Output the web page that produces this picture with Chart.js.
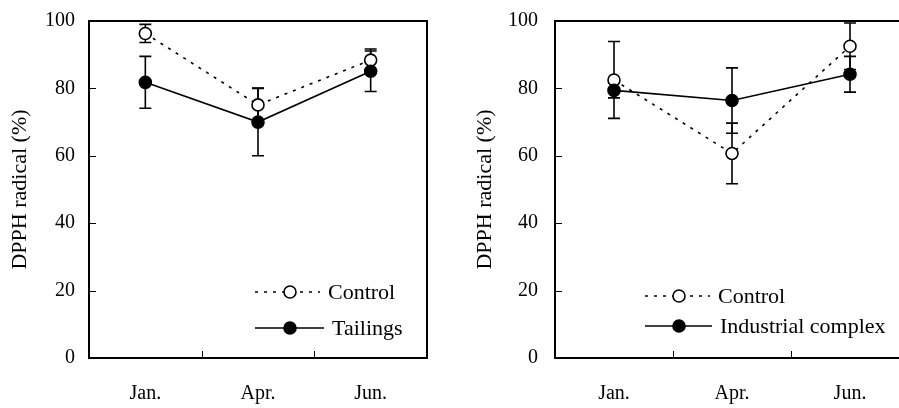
<!DOCTYPE html>
<html>
<head>
<meta charset="utf-8">
<script src="https://cdn.jsdelivr.net/npm/chart.js@4.4.0/dist/chart.umd.min.js"></script>
<style>
  html, body { margin: 0; padding: 0; background: #fff; overflow: hidden; }
  .panel { position: absolute; top: 0; height: 408px; overflow: hidden; }
  .inner { position: relative; height: 408px; }
</style>
</head>
<body>
<div class="panel" style="left:0;width:450px;"><div class="inner" style="width:450px;"><canvas id="left"></canvas></div></div>
<div class="panel" style="left:450px;width:449px;"><div class="inner" style="width:470px;"><canvas id="right"></canvas></div></div>
<script>
// categories and axis ticks
const months = ['Jan.', 'Apr.', 'Jun.'];
const yTicks = [0, 20, 40, 60, 80, 100];
const yTitle = 'DPPH radical (%)';

// left panel: control vs tailings
const controlA = [96.3, 75.1, 88.4];
const controlAErr = [2.7, 5.0, 3.3];
const tailings = [81.8, 70.0, 85.1];
const tailingsErr = [7.7, 10.0, 6.0];

// right panel: control vs industrial complex
const controlB = [82.5, 60.7, 92.5];
const controlBErr = [11.4, 9.0, 6.9];
const industrial = [79.4, 76.4, 84.2];
const industrialErr = [2.2, 9.7, 5.3];

const FONT = "'Liberation Serif', 'Times New Roman', serif";

// error bars, drawn under the markers
const errorBars = {
    id: 'errorBars',
    beforeDatasetsDraw(chart) {
        const ctx = chart.ctx;
        const y = chart.scales.y;
        ctx.save();
        ctx.strokeStyle = '#000';
        ctx.lineWidth = 1.6;
        ctx.setLineDash([]);
        chart.data.datasets.forEach((ds, i) => {
            const meta = chart.getDatasetMeta(i);
            meta.data.forEach((pt, j) => {
                const e = ds.errors[j];
                const top = y.getPixelForValue(ds.data[j] + e);
                const bot = y.getPixelForValue(ds.data[j] - e);
                ctx.beginPath();
                ctx.moveTo(pt.x, top); ctx.lineTo(pt.x, bot);
                ctx.moveTo(pt.x - 6, top); ctx.lineTo(pt.x + 6, top);
                ctx.moveTo(pt.x - 6, bot); ctx.lineTo(pt.x + 6, bot);
                ctx.stroke();
            });
        });
        ctx.restore();
    }
};

// frame and inward tick marks
const frame = {
    id: 'frame',
    afterDraw(chart) {
        const ctx = chart.ctx;
        const a = chart.chartArea;
        const x = chart.scales.x, y = chart.scales.y;
        ctx.save();
        ctx.strokeStyle = '#000';
        ctx.lineWidth = 2;
        ctx.strokeRect(a.left, a.top, a.right - a.left, a.bottom - a.top);
        ctx.lineWidth = 1;
        ctx.beginPath();
        yTicks.forEach(v => {
            const py = Math.round(y.getPixelForValue(v)) + 0.5;
            ctx.moveTo(a.left, py); ctx.lineTo(a.left + 7, py);
        });
        for (let i = 0; i < months.length - 1; i++) {
            const px = Math.round((x.getPixelForValue(i) + x.getPixelForValue(i + 1)) / 2) + 0.5;
            ctx.moveTo(px, a.bottom); ctx.lineTo(px, a.bottom - 7);
        }
        ctx.stroke();
        ctx.restore();
    }
};

// legend: line sample with marker in the middle, then label
const lineLegend = {
    id: 'lineLegend',
    afterDraw(chart, args, opts) {
        const ctx = chart.ctx;
        const a = chart.chartArea;
        ctx.save();
        ctx.font = '22px ' + FONT;
        ctx.textBaseline = 'middle';
        ctx.fillStyle = '#000';
        chart.data.datasets.forEach((ds, i) => {
            const ly = a.top + opts.rows[i];
            const x0 = a.left + opts.x;
            const x1 = x0 + opts.len[i];
            ctx.strokeStyle = '#000';
            ctx.lineWidth = 1.6;
            ctx.setLineDash(ds.borderDash || []);
            ctx.beginPath();
            ctx.moveTo(x0, ly); ctx.lineTo(x1, ly);
            ctx.stroke();
            ctx.setLineDash([]);
            ctx.beginPath();
            ctx.arc(x0 + opts.mark, ly, 6, 0, Math.PI * 2);
            ctx.fillStyle = ds.pointBackgroundColor;
            ctx.fill();
            ctx.stroke();
            ctx.fillStyle = '#000';
            ctx.fillText(ds.label, x1 + 8, ly + 1);
        });
        ctx.restore();
    }
};

function makeChart(id, sets, yWidth, pad, titlePad, tickPad, legend) {
    const datasets = sets.map(s => ({
        label: s.label,
        data: s.data,
        errors: s.errors,
        borderColor: '#000',
        borderWidth: 1.6,
        borderDash: s.open ? [3, 6] : [],
        pointRadius: 6,
        pointBorderWidth: 1.6,
        pointBorderColor: '#000',
        pointBackgroundColor: s.open ? '#fff' : '#000',
        tension: 0,
        order: s.open ? 2 : 1
    }));
    return new Chart(document.getElementById(id), {
        type: 'line',
        data: { labels: months, datasets },
        options: {
            responsive: true,
            maintainAspectRatio: false,
            animation: false,
            events: [],
            layout: { padding: pad },
            plugins: {
                legend: { display: false },
                tooltip: { enabled: false },
                lineLegend: legend
            },
            scales: {
                x: {
                    type: 'category',
                    offset: true,
                    grid: { display: false, drawTicks: false },
                    border: { display: false },
                    ticks: { color: '#000', font: { family: FONT, size: 20 }, padding: 24 },
                    afterFit(s) { s.height = 50; s.paddingLeft = 0; s.paddingRight = 0; }
                },
                y: {
                    min: 0,
                    max: 100,
                    grid: { display: false, drawTicks: false },
                    border: { display: false },
                    afterBuildTicks(s) { s.ticks = yTicks.map(v => ({ value: v })); },
                    ticks: { color: '#000', font: { family: FONT, size: 20 }, padding: tickPad },
                    title: {
                        display: true,
                        text: yTitle,
                        color: '#000',
                        font: { family: FONT, size: 22 },
                        padding: { top: titlePad, bottom: 0 }
                    },
                    afterFit(s) { s.width = yWidth; s.paddingTop = 0; s.paddingBottom = 0; }
                }
            }
        },
        plugins: [errorBars, frame, lineLegend]
    });
}

makeChart('left', [
    { label: 'Control', data: controlA, errors: controlAErr, open: true },
    { label: 'Tailings', data: tailings, errors: tailingsErr, open: false }
], 89, { top: 21, right: 23, left: 0, bottom: 0 }, 7, 14,
   { x: 166, rows: [271, 307], len: [65, 69], mark: 35 });

makeChart('right', [
    { label: 'Control', data: controlB, errors: controlBErr, open: true },
    { label: 'Industrial complex', data: industrial, errors: industrialErr, open: false }
], 105, { top: 21, right: 11, left: 0, bottom: 0 }, 22, 17,
   { x: 90, rows: [275, 305], len: [65, 67], mark: 34 });
</script>
</body>
</html>
